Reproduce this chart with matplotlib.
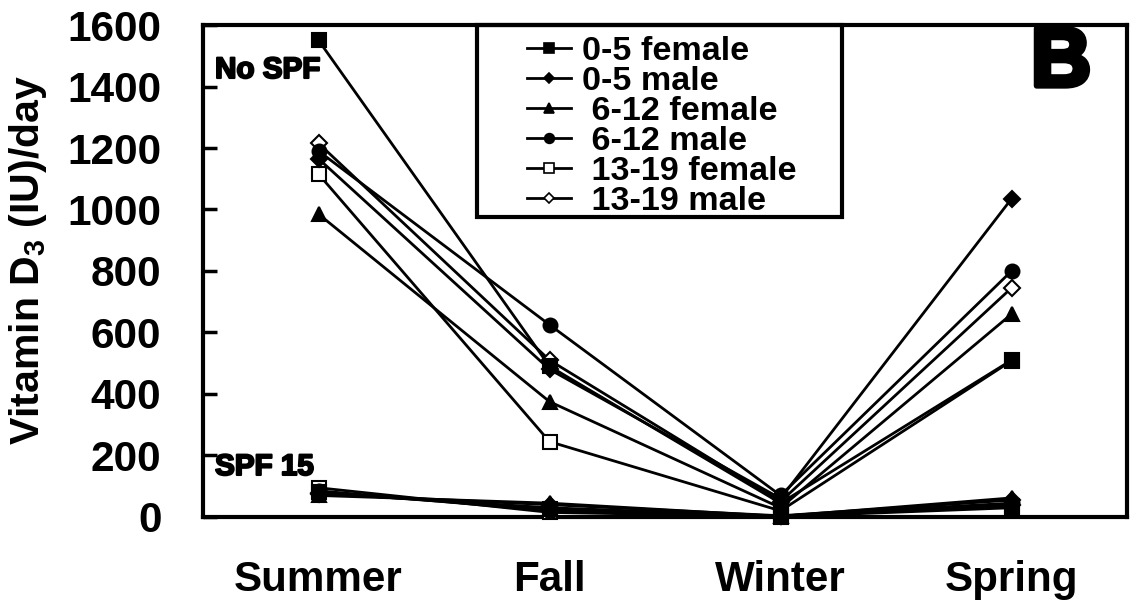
import matplotlib
matplotlib.use("Agg")
import matplotlib.pyplot as plt
from matplotlib import font_manager
from matplotlib.lines import Line2D
from matplotlib.patches import Rectangle
import matplotlib.patheffects as pe

# data
seasons = ["Summer", "Fall", "Winter", "Spring"]
groups = ["0-5 female", "0-5 male", " 6-12 female", " 6-12 male", " 13-19 female", " 13-19 male"]

no_spf_0_5_f = [1550, 490, 45, 510]
no_spf_0_5_m = [1165, 480, 60, 1035]
no_spf_6_12_f = [985, 375, 30, 660]
no_spf_6_12_m = [1190, 625, 70, 800]
no_spf_13_19_f = [1115, 245, 20, 508]
no_spf_13_19_m = [1215, 510, 50, 745]

spf15_0_5_f = [80, 25, 3, 35]
spf15_0_5_m = [75, 40, 4, 55]
spf15_6_12_f = [70, 45, 2, 62]
spf15_6_12_m = [85, 20, 3, 45]
spf15_13_19_f = [95, 15, 1, 30]
spf15_13_19_m = [78, 30, 2, 40]

no_spf = [no_spf_0_5_f, no_spf_0_5_m, no_spf_6_12_f, no_spf_6_12_m, no_spf_13_19_f, no_spf_13_19_m]
spf15 = [spf15_0_5_f, spf15_0_5_m, spf15_6_12_f, spf15_6_12_m, spf15_13_19_f, spf15_13_19_m]

# marker styles per group
markers = ["s", "D", "^", "o", "s", "D"]
filled = [True, True, True, True, False, False]
msizes = [10, 8, 10, 10, 10, 8]

names = {f.name for f in font_manager.fontManager.ttflist}
narrow = "Liberation Sans Narrow" if "Liberation Sans Narrow" in names else "Liberation Sans"
scale = 1.0 if narrow == "Liberation Sans Narrow" else 0.82

plt.rcParams["font.family"] = ["Liberation Sans", "DejaVu Sans"]
plt.rcParams["font.weight"] = "bold"

fig = plt.figure(figsize=(11.35, 6.07), dpi=100)
ax = fig.add_axes([0.1789, 0.1483, 0.8141, 0.8105])

x = list(range(len(seasons)))
# open markers drawn first so the filled ones sit on top where they coincide
order = [4, 5, 0, 1, 2, 3]
for series in (no_spf, spf15):
    for i in order:
        vals, m, f, ms = series[i], markers[i], filled[i], msizes[i]
        ax.plot(x, vals, color="black", lw=2.0, marker=m, markersize=ms,
                markerfacecolor="black" if f else "white",
                markeredgecolor="black", markeredgewidth=1.5, clip_on=False, zorder=3)

ax.set_xlim(-0.5, 3.5)
ax.set_ylim(0, 1600)
ax.set_yticks(range(0, 1601, 200))
ax.set_xticks(x)
ax.set_xticklabels(seasons, family=[narrow, "Liberation Sans"], fontsize=37 * scale, fontweight="bold")
ax.tick_params(axis="x", length=0, pad=31)
ax.tick_params(axis="y", direction="in", length=10, width=2.5, pad=30, labelsize=30.5)
for lab in ax.get_yticklabels():
    lab.set_fontweight("bold")
for s in ax.spines.values():
    s.set_linewidth(3)

ax.set_ylabel("Vitamin D$_\\mathregular{3}$ (IU)/day", fontsize=29.5, fontweight="bold")
ax.yaxis.set_label_coords(-0.1667, 0.522)

# panel annotations
heavy = [pe.withStroke(linewidth=1.5, foreground="black")]
ax.text(0.013, 0.9085, "No SPF", transform=ax.transAxes, family=[narrow, "Liberation Sans"],
        fontsize=26 * scale, fontweight="bold", path_effects=heavy, va="center")
ax.text(0.013, 0.1016, "SPF 15", transform=ax.transAxes, family=[narrow, "Liberation Sans"],
        fontsize=26 * scale, fontweight="bold", path_effects=heavy, va="center")
ax.text(0.9286, 0.921, "B", transform=ax.transAxes, fontsize=60, fontweight="bold",
        path_effects=[pe.withStroke(linewidth=4, foreground="black")], ha="center", va="center")

# legend with its own frame
ax.add_patch(Rectangle((0.2965, 0.6098), 0.3951, 0.3902, transform=ax.transAxes,
                       fill=False, lw=3, edgecolor="black", zorder=4, clip_on=False))
handles = [Line2D([], [], color="black", lw=2, marker=m, markersize=ms * 0.7,
                  markerfacecolor="black" if f else "white", markeredgecolor="black",
                  markeredgewidth=1.2)
           for m, f, ms in zip(markers, filled, msizes)]
ax.legend(handles, groups, loc="upper left", bbox_to_anchor=(0.3506, 0.977),
          frameon=False, borderpad=0, borderaxespad=0, handlelength=1.3,
          handletextpad=0.32, labelspacing=-0.03, numpoints=1,
          prop={"family": narrow, "weight": "bold", "size": 30 * scale})

fig.savefig("out.png", dpi=100)
